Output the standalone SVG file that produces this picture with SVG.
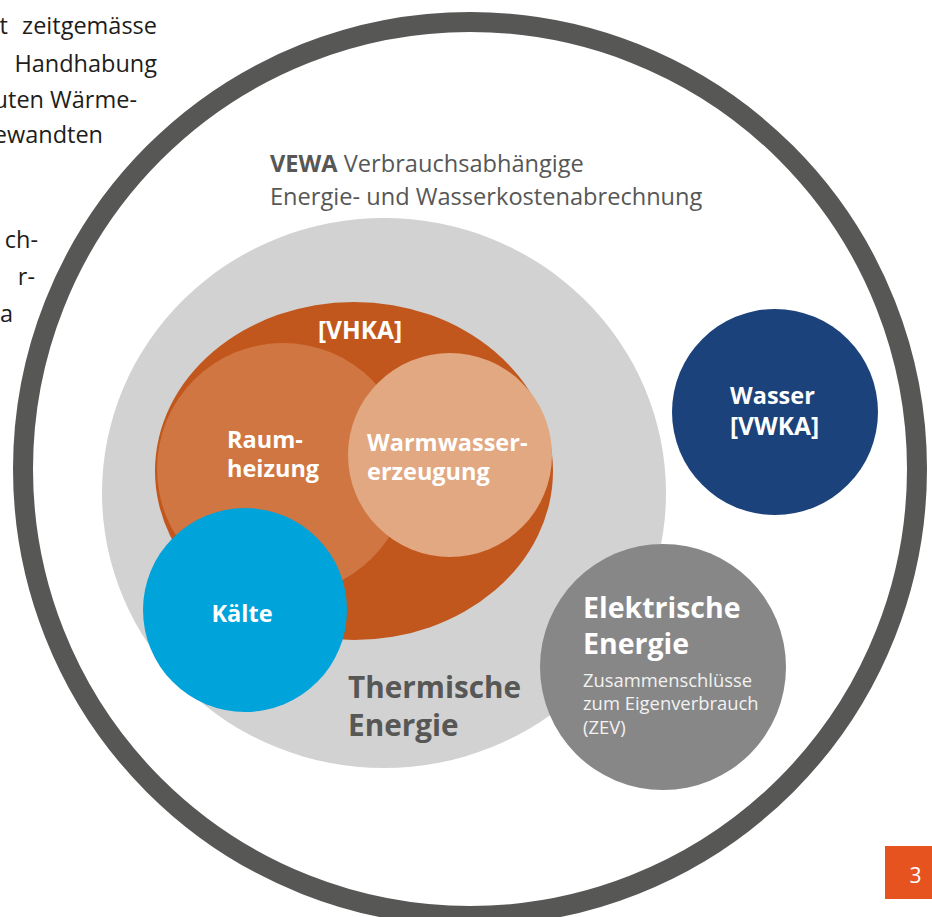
<svg xmlns="http://www.w3.org/2000/svg" width="932" height="917" viewBox="0 0 932 917">
<style>
  text { font-family: "Open Sans", "Noto Sans", "DejaVu Sans", sans-serif; }
  .para { font-size: 23.5px; fill: #1d1d1b; }
  .lbl { font-size: 23.5px; font-weight: 700; fill: #ffffff; }
  .big { font-size: 29.7px; font-weight: 700; }
  .grey { fill: #575756; }
  .sub { font-size: 18.4px; fill: #f2f2f2; }
</style>
<rect width="932" height="917" fill="#ffffff"/>

<g id="paragraph">
  <text class="para" x="8" y="34" text-anchor="end">t</text>
  <text class="para" x="157" y="34" text-anchor="end">zeitgemässe</text>
  <text class="para" x="157" y="72" text-anchor="end">Handhabung</text>
  <text class="para" x="137" y="108" text-anchor="end">uten Wärme-</text>
  <text class="para" x="103" y="143" text-anchor="end">ewandten</text>
  <text class="para" x="38" y="248" text-anchor="end">ch-</text>
  <text class="para" x="35" y="285" text-anchor="end">r-</text>
  <text class="para" x="13" y="322" text-anchor="end">a</text>
</g>

<g id="vewa">
  <circle cx="470" cy="469" r="447" fill="none" stroke="#575756" stroke-width="20"/>
  <text x="270" y="172" style="font-size:23.6px" class="grey"><tspan font-weight="700">VEWA</tspan> Verbrauchsabhängige</text>
  <text x="270" y="205" style="font-size:23.6px" class="grey">Energie- und Wasserkostenabrechnung</text>
</g>

<g id="thermische-energie">
  <ellipse cx="384" cy="493" rx="282" ry="275" fill="#d2d2d2"/>
  <text class="big grey" x="348" y="698">Thermische</text>
  <text class="big grey" x="348" y="736">Energie</text>
</g>

<g id="vhka">
  <ellipse cx="354" cy="471" rx="199" ry="169" fill="#c2571d"/>
  <text class="lbl" x="360" y="339" text-anchor="middle" style="font-size:24.5px">[VHKA]</text>
</g>

<g id="raumheizung">
  <circle cx="283" cy="469" r="126" fill="#cf7642"/>
  <text class="lbl" x="227" y="448">Raum-</text>
  <text class="lbl" x="227" y="477">heizung</text>
</g>

<g id="warmwasser">
  <circle cx="450" cy="455" r="102" fill="#e1a882"/>
  <text class="lbl" x="367" y="451">Warmwasser-</text>
  <text class="lbl" x="367" y="480">erzeugung</text>
</g>

<g id="kaelte">
  <circle cx="245" cy="610" r="102" fill="#00a3da"/>
  <text class="lbl" x="242" y="622" text-anchor="middle">Kälte</text>
</g>

<g id="wasser">
  <circle cx="775" cy="412" r="103" fill="#1b427b"/>
  <text class="lbl" x="730" y="404">Wasser</text>
  <text class="lbl" x="730" y="435" style="font-size:24.5px">[VWKA]</text>
</g>

<g id="elektrische-energie">
  <circle cx="663" cy="667" r="123" fill="#878787"/>
  <text x="583" y="618" style="font-size:28.5px;font-weight:700;fill:#ffffff">Elektrische</text>
  <text x="583" y="654" style="font-size:28.5px;font-weight:700;fill:#ffffff">Energie</text>
  <text class="sub" x="583" y="687">Zusammenschlüsse</text>
  <text class="sub" x="583" y="710">zum Eigenverbrauch</text>
  <text class="sub" x="583" y="734">(ZEV)</text>
</g>

<g id="page-number">
  <rect x="885" y="846" width="47" height="53" fill="#e6531f"/>
  <text x="915.5" y="883" text-anchor="middle" style="font-size:21px;fill:#ffffff">3</text>
</g>
</svg>
